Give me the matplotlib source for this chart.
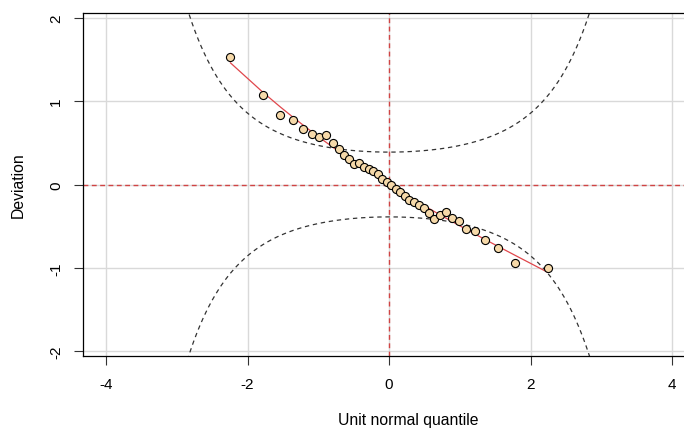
#!/usr/bin/env python3

"""
Worm plot of residuals: deviation from the normal quantile against the
unit normal quantile, with a cubic fit and 95% confidence curves.
"""

import numpy as np
import matplotlib.pyplot as plt

plt.rcParams["font.family"] = ["Liberation Sans", "DejaVu Sans"]

# Theoretical quantiles (x) and deviations (y) of the 40 residuals
quantiles = [-2.241, -1.780, -1.534, -1.356, -1.213, -1.092, -0.984, -0.887,
             -0.798, -0.714, -0.636, -0.561, -0.489, -0.419, -0.352, -0.286,
             -0.221, -0.157, -0.094, -0.031, 0.031, 0.094, 0.157, 0.221,
             0.286, 0.352, 0.419, 0.489, 0.561, 0.636, 0.714, 0.798,
             0.887, 0.984, 1.092, 1.213, 1.356, 1.534, 1.780, 2.241]
deviation = [1.53, 1.07, 0.83, 0.77, 0.66, 0.61, 0.57, 0.59,
             0.50, 0.42, 0.35, 0.30, 0.24, 0.26, 0.21, 0.18,
             0.16, 0.12, 0.07, 0.03, -0.01, -0.05, -0.09, -0.14,
             -0.18, -0.21, -0.24, -0.28, -0.34, -0.41, -0.37, -0.33,
             -0.40, -0.44, -0.53, -0.56, -0.66, -0.76, -0.94, -1.00]

x_ticks = [-4, -2, 0, 2, 4]
y_ticks = [-2, -1, 0, 1, 2]
level = 0.95


def norm_pdf(z):
    return np.exp(-0.5 * z ** 2) / np.sqrt(2 * np.pi)


def norm_cdf(z):
    from math import erf
    return 0.5 * (1 + np.vectorize(erf)(z / np.sqrt(2)))


def main():
    x = np.array(quantiles)
    y = np.array(deviation)
    n = len(x)

    fig = plt.figure(figsize=(6.84, 4.31), dpi=100)
    ax = fig.add_axes([0.1218, 0.1724, 0.894, 0.7944])

    ax.set_xlim(-4.32, 4.32)
    ax.set_ylim(-2.053, 2.053)

    # light grid at the tick positions
    for t in x_ticks:
        ax.axvline(t, color="#d9d9d9", lw=1.0, zorder=0)
    for t in y_ticks:
        ax.axhline(t, color="#d9d9d9", lw=1.0, zorder=0)

    # confidence curves
    z = np.linspace(-4.32, 4.32, 400)
    p = norm_cdf(z)
    se = np.sqrt(p * (1 - p) / n) / norm_pdf(z)
    high = 1.959964 * se
    ax.plot(z, high, color="#333333", lw=0.9, dashes=(3.5, 3), zorder=2)
    ax.plot(z, -high, color="#333333", lw=0.9, dashes=(3.5, 3), zorder=2)

    # reference lines
    ax.axhline(0, color="#d04444", lw=1.0, dashes=(3.5, 2.5), zorder=1)
    ax.axvline(0, color="#d04444", lw=1.0, dashes=(3.5, 2.5), zorder=1)

    # cubic fit through the points
    coef = np.polyfit(x, y, 3)
    ax.plot(x, np.polyval(coef, x), color="#e0474c", lw=0.9, zorder=3)

    ax.scatter(x, y, s=34, facecolor="#f6d9a9", edgecolor="black",
               linewidth=0.8, zorder=4)

    ax.set_xticks(x_ticks)
    ax.set_yticks(y_ticks)
    ax.set_xticklabels([str(t) for t in x_ticks])
    ax.set_yticklabels([str(t) for t in y_ticks], rotation=90, va="center")
    ax.tick_params(axis="both", direction="out", length=6.5, width=0.8,
                   color="#333333", labelsize=11, pad=9)
    ax.tick_params(axis="y", pad=8)

    for side in ["left", "bottom", "top", "right"]:
        ax.spines[side].set_linewidth(0.9)
        ax.spines[side].set_color("black")

    ax.set_xlabel("Unit normal quantile", fontsize=11.3)
    ax.set_ylabel("Deviation", fontsize=11.3)
    ax.xaxis.set_label_coords(0.531, -0.163)
    ax.yaxis.set_label_coords(-0.0945, 0.5)

    fig.savefig("out.png", dpi=100)


if __name__ == "__main__":
    main()
